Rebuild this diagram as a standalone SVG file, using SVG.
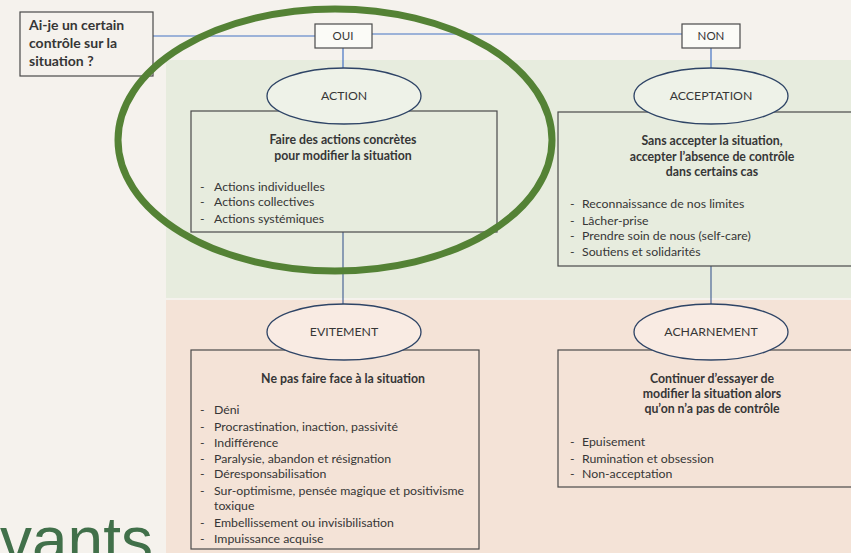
<svg xmlns="http://www.w3.org/2000/svg" width="851" height="553" viewBox="0 0 851 553">
<style>
text{font-family:Lato,"Liberation Sans",sans-serif;fill:#363636;}
.t{font-size:12.3px;}
.b{font-size:12.3px;font-weight:bold;}
.q{font-size:14px;font-weight:bold;}
.c{text-anchor:middle;}
.box{fill:none;stroke:#4a4a4a;stroke-width:1.2;}
.lbl{fill:#fbfbf7;stroke:#4a4a4a;stroke-width:1.2;}
.eg{fill:#eef2e8;stroke:#2e4466;stroke-width:1.3;}
.ep{fill:#f9ebe3;stroke:#2e4466;stroke-width:1.3;}
.con{stroke:#4472c4;stroke-width:1.2;fill:none;}
.con2{stroke:#3d5a90;stroke-width:1.1;fill:none;}
</style>
<rect width="851" height="553" fill="#f5f2ed"/>
<rect x="166" y="60" width="685" height="238" fill="#e7ecde"/>
<rect x="166" y="300" width="685" height="253" fill="#f4e3d7"/>
<text x="0" y="562" style="font-size:64px;fill:#41704a;font-family:'Liberation Sans',sans-serif">vants</text>
<g id="connectors">
<line class="con" x1="153" y1="36" x2="315" y2="36"/>
<line class="con" x1="372" y1="34" x2="682" y2="34"/>
<line class="con" x1="343" y1="48" x2="343" y2="68"/>
<line class="con" x1="711" y1="48" x2="711" y2="68"/>
<line class="con2" x1="343" y1="232" x2="343" y2="304"/>
<line class="con2" x1="711" y1="266" x2="711" y2="304"/>
</g>
<g id="question">
<rect class="box" x="20" y="12" width="133" height="64" fill="#f7f5f0"/>
<text class="q" x="29" y="30">Ai-je un certain</text>
<text class="q" x="29" y="48">contrôle sur la</text>
<text class="q" x="29" y="66">situation ?</text>
</g>
<g id="oui">
<rect class="lbl" x="315" y="24" width="57" height="24"/>
<text class="t c" x="343" y="40" style="font-size:11.5px">OUI</text>
</g>
<g id="non">
<rect class="lbl" x="682" y="24" width="58" height="24"/>
<text class="t c" x="711" y="40" style="font-size:11.5px">NON</text>
</g>
<g id="action">
<rect class="box" x="191" y="111" width="306" height="121"/>
<ellipse class="eg" cx="344" cy="96" rx="77" ry="28"/>
<text class="t c" x="344" y="100">ACTION</text>
<text class="b c" x="343" y="144">Faire des actions concrètes</text>
<text class="b c" x="343" y="160">pour modifier la situation</text>
<text class="t" x="200" y="191">-</text><text class="t" x="214" y="191">Actions individuelles</text>
<text class="t" x="200" y="206">-</text><text class="t" x="214" y="206">Actions collectives</text>
<text class="t" x="200" y="223">-</text><text class="t" x="214" y="223">Actions systémiques</text>
</g>
<g id="acceptation">
<rect class="box" x="558" y="112" width="300" height="154"/>
<ellipse class="eg" cx="711" cy="96" rx="77" ry="28"/>
<text class="t c" x="711" y="100">ACCEPTATION</text>
<text class="b c" x="712" y="145">Sans accepter la situation,</text>
<text class="b c" x="712" y="161">accepter l’absence de contrôle</text>
<text class="b c" x="712" y="176">dans certains cas</text>
<text class="t" x="570" y="208">-</text><text class="t" x="582" y="208">Reconnaissance de nos limites</text>
<text class="t" x="570" y="225">-</text><text class="t" x="582" y="225">Lâcher-prise</text>
<text class="t" x="570" y="240">-</text><text class="t" x="582" y="240">Prendre soin de nous (self-care)</text>
<text class="t" x="570" y="256">-</text><text class="t" x="582" y="256">Soutiens et solidarités</text>
</g>
<g id="evitement">
<rect class="box" x="191" y="350" width="288" height="199"/>
<ellipse class="ep" cx="344" cy="332" rx="77" ry="28"/>
<text class="t c" x="344" y="336">EVITEMENT</text>
<text class="b c" x="343" y="383">Ne pas faire face à la situation</text>
<text class="t" x="200" y="414">-</text><text class="t" x="214" y="414">Déni</text>
<text class="t" x="200" y="431">-</text><text class="t" x="214" y="431">Procrastination, inaction, passivité</text>
<text class="t" x="200" y="447">-</text><text class="t" x="214" y="447">Indifférence</text>
<text class="t" x="200" y="463">-</text><text class="t" x="214" y="463">Paralysie, abandon et résignation</text>
<text class="t" x="200" y="478">-</text><text class="t" x="214" y="478">Déresponsabilisation</text>
<text class="t" x="200" y="495">-</text><text class="t" x="214" y="495">Sur-optimisme, pensée magique et positivisme</text>
<text class="t" x="214" y="510">toxique</text>
<text class="t" x="200" y="527">-</text><text class="t" x="214" y="527">Embellissement ou invisibilisation</text>
<text class="t" x="200" y="543">-</text><text class="t" x="214" y="543">Impuissance acquise</text>
</g>
<g id="acharnement">
<rect class="box" x="558" y="350" width="300" height="137"/>
<ellipse class="ep" cx="711" cy="332" rx="77" ry="28"/>
<text class="t c" x="711" y="336">ACHARNEMENT</text>
<text class="b c" x="712" y="383">Continuer d’essayer de</text>
<text class="b c" x="712" y="398">modifier la situation alors</text>
<text class="b c" x="712" y="413">qu’on n’a pas de contrôle</text>
<text class="t" x="570" y="446">-</text><text class="t" x="582" y="446">Epuisement</text>
<text class="t" x="570" y="463">-</text><text class="t" x="582" y="463">Rumination et obsession</text>
<text class="t" x="570" y="478">-</text><text class="t" x="582" y="478">Non-acceptation</text>
</g>
<g id="highlight">
<ellipse cx="335" cy="140" rx="217" ry="131" fill="none" stroke="#548235" stroke-width="7"/>
</g>
</svg>
